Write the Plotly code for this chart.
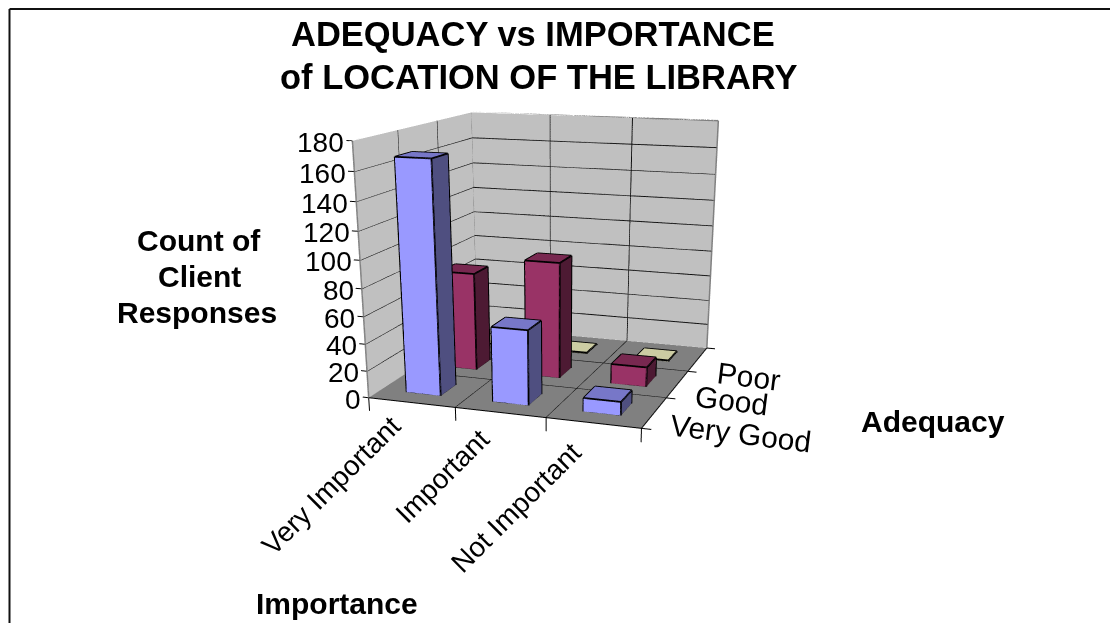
import plotly.graph_objects as go

importance = ["Very Important", "Important", "Not Important"]
adequacy = ["Very Good", "Good", "Poor"]
very_good = [168, 55, 10]
good = [75, 88, 15]
poor = [1, 1, 1]
z_ticks = [0, 20, 40, 60, 80, 100, 120, 140, 160, 180]

# The page is taller than the window so the 3D view gets a longer focal length.
W, H = 1110, 1000
XR, YR, ZR = (-0.08, 3.12), (0.0, 3.0), (-12.0, 180.0)
EYE = dict(x=4.6266, y=-13.42, z=3.0134)
CENTER = dict(x=0.3332, y=-0.7997, z=-2.6643)
UP = dict(x=-0.0144, y=-0.0017, z=1)
ASPECT = dict(x=3.441, y=3.2746, z=3.0265)

FRONT = {"vg": "#9999FF", "g": "#993366", "p": "#FFFFCC"}
SIDE = {"vg": "#4F4F80", "g": "#4D1A33", "p": "#808066"}
TOP = {"vg": "#7777C8", "g": "#782850", "p": "#CCCCA3"}

BW = 0.4
fig = go.Figure()


def quad_mesh(quads, colors):
    xs, ys, zs, i, j, k, fc = [], [], [], [], [], [], []
    for q, col in zip(quads, colors):
        n = len(xs)
        for p in q:
            xs.append(p[0]); ys.append(p[1]); zs.append(p[2])
        i += [n, n]; j += [n + 1, n + 2]; k += [n + 2, n + 3]; fc += [col, col]
    fig.add_trace(go.Mesh3d(x=xs, y=ys, z=zs, i=i, j=j, k=k, facecolor=fc, flatshading=True,
                            lighting=dict(ambient=1, diffuse=0, specular=0, fresnel=0, roughness=1),
                            hoverinfo="skip", showscale=False))


def segments(segs, color, width):
    xs, ys, zs = [], [], []
    for a, b in segs:
        xs += [a[0], b[0], None]; ys += [a[1], b[1], None]; zs += [a[2], b[2], None]
    fig.add_trace(go.Scatter3d(x=xs, y=ys, z=zs, mode="lines", line=dict(color=color, width=width),
                               hoverinfo="skip", showlegend=False))


# walls and floor
quad_mesh([[(0,0,0),(0,3,0),(0,3,180),(0,0,180)],
           [(0,3,0),(3,3,0),(3,3,180),(0,3,180)],
           [(0,0,0),(3,0,0),(3,3,0),(0,3,0)]], ["#C0C0C0", "#C0C0C0", "#808080"])

grid = []
for v in z_ticks[1:-1]:
    grid += [((0,0,v),(0,3,v)), ((0,3,v),(3,3,v))]
for n in (1, 2):
    grid += [((0,n,0),(0,n,180)), ((n,3,0),(n,3,180)), ((n,0,0),(n,3,0)), ((0,n,0),(3,n,0))]
segments(grid, "#101010", 2)

rim = [((0,0,180),(0,3,180)), ((0,3,180),(3,3,180)), ((3,3,180),(3,3,0)), ((0,3,180),(0,3,0)), ((0,0,180),(0,0,0))]
segments(rim, "#808080", 3)

ticks = [((n,0,0),(n,0,-10)) for n in range(4)]
ticks += [((3,n,0),(3.1,n,0)) for n in range(4)]
ticks += [((0,0,v),(-0.07,0,v)) for v in z_ticks]
ticks += [((0,0,0),(3,0,0)), ((3,0,0),(3,3,0))]
segments(ticks, "#000000", 2)

# one box per value
edges = []
for row, (key, vals) in enumerate([("vg", very_good), ("g", good), ("p", poor)]):
    quads, cols = [], []
    for cat, h in enumerate(vals):
        x0, x1 = cat + 0.3, cat + 0.3 + BW
        y0, y1 = row + 0.3, row + 0.3 + BW
        quads += [[(x0,y0,0),(x1,y0,0),(x1,y0,h),(x0,y0,h)],
                  [(x1,y0,0),(x1,y1,0),(x1,y1,h),(x1,y0,h)],
                  [(x0,y0,h),(x1,y0,h),(x1,y1,h),(x0,y1,h)]]
        cols += [FRONT[key], SIDE[key], TOP[key]]
        edges += [((x0,y0,0),(x1,y0,0)), ((x1,y0,0),(x1,y0,h)), ((x1,y0,h),(x0,y0,h)), ((x0,y0,h),(x0,y0,0)),
                  ((x1,y0,0),(x1,y1,0)), ((x1,y1,0),(x1,y1,h)), ((x1,y1,h),(x1,y0,h)),
                  ((x1,y1,h),(x0,y1,h)), ((x0,y1,h),(x0,y0,h))]
    quad_mesh(quads, cols)
segments(edges, "#000000", 3.5)

FONT = "Liberation Sans"
scene_notes = []
for v in z_ticks:
    scene_notes.append(dict(x=-0.07, y=0, z=v, text=str(v), showarrow=False, xanchor="right", yanchor="middle",
                            xshift=0, yshift=-2, font=dict(family=FONT, size=28, color="black")))
for n, (name, dy) in enumerate(zip(importance, (11, 8, 6))):
    scene_notes.append(dict(x=n + 0.5, y=0, z=-12, text=name, showarrow=False, textangle=-45,
                            xanchor="right", yanchor="top", xshift=-3, yshift=dy,
                            font=dict(family=FONT, size=28, color="black")))
for n, (name, dx, dy) in enumerate(zip(adequacy, (1, 3, 5), (8, 8, 6))):
    scene_notes.append(dict(x=3.12, y=n + 0.5, z=0, text=name, showarrow=False, textangle=7,
                            xanchor="left", yanchor="top", xshift=dx, yshift=dy,
                            font=dict(family=FONT, size=30, color="black")))


def note(x, y, text, size):
    return dict(x=x / W, y=1 - y / H, xref="paper", yref="paper", text=f"<b>{text}</b>", showarrow=False,
                xanchor="center", yanchor="middle", font=dict(family=FONT, size=size, color="black"))


fig.update_layout(
    width=W, height=H, margin=dict(l=0, r=0, t=0, b=0), paper_bgcolor="white", showlegend=False,
    scene=dict(
        domain=dict(x=[0, 1], y=[0, 1]),
        xaxis=dict(visible=False, range=list(XR)),
        yaxis=dict(visible=False, range=list(YR)),
        zaxis=dict(visible=False, range=list(ZR)),
        aspectmode="manual", aspectratio=ASPECT,
        camera=dict(eye=EYE, center=CENTER, up=UP),
        annotations=scene_notes,
    ),
    annotations=[
        note(533, 34, "ADEQUACY vs IMPORTANCE", 34.5),
        note(538, 77, "of LOCATION OF THE LIBRARY", 34.5),
        note(199, 240, "Count of", 30),
        note(199, 276, "Client", 30),
        note(197, 312, "Responses", 30),
        note(337, 603, "Importance", 30),
        note(933, 421, "Adequacy", 30),
    ],
    shapes=[
        dict(type="line", xref="paper", yref="paper", x0=9.5 / W, x1=1, y0=1 - 9 / H, y1=1 - 9 / H, line=dict(color="#111111", width=2)),
        dict(type="line", xref="paper", yref="paper", x0=9.5 / W, x1=9.5 / W, y0=1 - 9 / H, y1=0, line=dict(color="#111111", width=2)),
    ],
)
fig.write_html("out.html")
